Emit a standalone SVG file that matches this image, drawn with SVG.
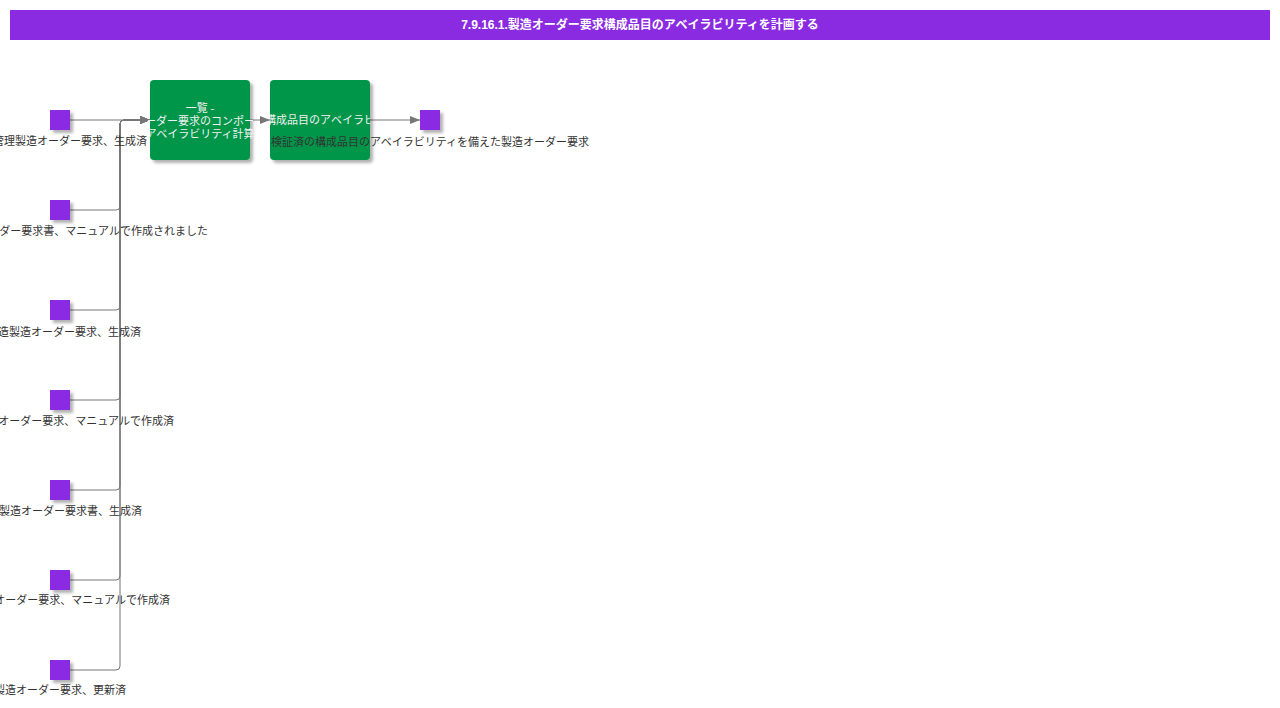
<svg xmlns="http://www.w3.org/2000/svg" width="1280" height="708" viewBox="0 0 1280 708">
<style>
.lbl{font-family:"Liberation Serif","Noto Sans CJK JP",serif;font-size:11px;fill:#333}
.btxt{font-family:"Liberation Serif","Noto Sans CJK JP",serif;font-size:11px;fill:#f0f0f0;text-anchor:middle}
.sq{fill:#8a2be2;filter:url(#sh)}
.task{fill:#00964a;filter:url(#sh)}
.con{fill:none;stroke:#777;stroke-width:1}
.title{font-family:"Liberation Sans","Noto Sans CJK JP",sans-serif;font-size:12px;font-weight:bold;fill:#fff;text-anchor:middle}
</style>
<defs>
<filter id="sh" x="-20%" y="-20%" width="150%" height="150%">
<feDropShadow dx="3" dy="3" stdDeviation="1.5" flood-color="#000" flood-opacity="0.3"/>
</filter>
<marker id="arr" markerWidth="10" markerHeight="8" refX="10" refY="4" orient="auto" markerUnits="userSpaceOnUse">
<path d="M0,0 L10,4 L0,8 Z" fill="#777"/>
</marker>
<clipPath id="c1"><rect x="148" y="80" width="105" height="80"/></clipPath>
<clipPath id="c2"><rect x="270" y="80" width="100" height="80"/></clipPath>
</defs>
<rect width="1280" height="708" fill="#fff"/>
<g id="title">
<rect x="10" y="10" width="1260" height="30" fill="#8a2be2"/>
<text class="title" x="640" y="29">7.9.16.1.製造オーダー要求構成品目のアベイラビリティを計画する</text>
</g>
<g id="connectors">
<path class="con" d="M70,120 L150,120" marker-end="url(#arr)"/>
<path class="con" d="M70,210 L116,210 Q120,210 120,206 L120,124 Q120,120 124,120 L150,120" marker-end="url(#arr)"/>
<path class="con" d="M70,310 L116,310 Q120,310 120,306 L120,124 Q120,120 124,120 L150,120" marker-end="url(#arr)"/>
<path class="con" d="M70,400 L116,400 Q120,400 120,396 L120,124 Q120,120 124,120 L150,120" marker-end="url(#arr)"/>
<path class="con" d="M70,490 L116,490 Q120,490 120,486 L120,124 Q120,120 124,120 L150,120" marker-end="url(#arr)"/>
<path class="con" d="M70,580 L116,580 Q120,580 120,576 L120,124 Q120,120 124,120 L150,120" marker-end="url(#arr)"/>
<path class="con" d="M70,670 L116,670 Q120,670 120,666 L120,124 Q120,120 124,120 L150,120" marker-end="url(#arr)"/>
<path class="con" d="M250,120 L270,120" marker-end="url(#arr)"/>
<path class="con" d="M370,120 L420,120" marker-end="url(#arr)"/>
</g>
<g id="in1"><rect class="sq" x="50" y="110" width="20" height="20"/><text class="lbl" x="147" y="145" text-anchor="end">管理製造オーダー要求、生成済</text></g>
<g id="in2"><rect class="sq" x="50" y="200" width="20" height="20"/><text class="lbl" x="208" y="235" text-anchor="end">ダー要求書、マニュアルで作成されました</text></g>
<g id="in3"><rect class="sq" x="50" y="300" width="20" height="20"/><text class="lbl" x="141" y="336" text-anchor="end">造製造オーダー要求、生成済</text></g>
<g id="in4"><rect class="sq" x="50" y="390" width="20" height="20"/><text class="lbl" x="174" y="425" text-anchor="end">オーダー要求、マニュアルで作成済</text></g>
<g id="in5"><rect class="sq" x="50" y="480" width="20" height="20"/><text class="lbl" x="142" y="515" text-anchor="end">製造オーダー要求書、生成済</text></g>
<g id="in6"><rect class="sq" x="50" y="570" width="20" height="20"/><text class="lbl" x="170" y="604" text-anchor="end">オーダー要求、マニュアルで作成済</text></g>
<g id="in7"><rect class="sq" x="50" y="660" width="20" height="20"/><text class="lbl" x="126" y="694" text-anchor="end">製造オーダー要求、更新済</text></g>
<g id="task1">
<rect class="task" x="150" y="80" width="100" height="80" rx="4"/>
<g clip-path="url(#c1)">
<text class="btxt" x="200" y="112">一覧 -</text>
<text class="btxt" x="200" y="125">ーダー要求のコンポー</text>
<text class="btxt" x="200" y="138">アベイラビリティ計算</text>
</g>
</g>
<g id="task2">
<rect class="task" x="270" y="80" width="100" height="80" rx="4"/>
<g clip-path="url(#c2)">
<text class="btxt" x="320" y="124">構成品目のアベイラビ</text>
</g>
</g>
<g id="out1"><rect class="sq" x="420" y="110" width="20" height="20"/><text class="lbl" x="430" y="146" text-anchor="middle">検証済の構成品目のアベイラビリティを備えた製造オーダー要求</text></g>
</svg>
